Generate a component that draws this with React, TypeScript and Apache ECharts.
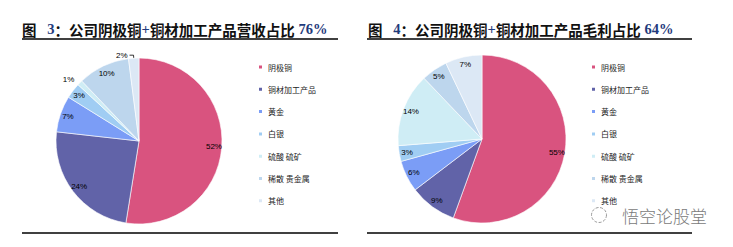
import React, { useEffect, useRef } from "react";
import * as echarts from "echarts";

const categories = ["阴极铜", "铜材加工产品", "黄金", "白银", "硫酸 硫矿", "稀散 贵金属", "其他"];
const revenueShare = [52, 24, 7, 3, 1, 10, 2];
const profitShare = [55, 9, 6, 3, 14, 5, 7];
const leftTitleParts = ["图", "   3", "：公司阴极铜", "+", "铜材加工产品营收占比", " 76%"];
const rightTitleParts = ["图", "   4", "：公司阴极铜", "+", "铜材加工产品毛利占比", " 64%"];
const watermark = "悟空论股堂";

const colors = ["#d9537f", "#6163a8", "#7b9df6", "#a0cdf3", "#cfedf5", "#bdd6ed", "#dce8f5"];

const CJK = '"Noto Sans CJK SC", sans-serif';
const SERIF = '"Liberation Serif", "DejaVu Serif", serif';
const SANS = '"Liberation Sans", Arial, sans-serif';

function titleText(parts: string[]) {
  const keys = ["a", "b", "a", "b", "a", "b"];
  return parts.map((p, i) => `{${keys[i]}|${p}}`).join("");
}

const titleRich = {
  a: { fontFamily: CJK, fontSize: 14.5, fontWeight: "bold", fill: "#111", color: "#111" },
  b: { fontFamily: SERIF, fontSize: 14.5, fontWeight: "bold", fill: "#1f3b7c", color: "#1f3b7c" },
};

export default function App() {
  const ref = useRef<HTMLDivElement>(null);
  useEffect(() => {
    if (!ref.current) return;
    const chart = echarts.init(ref.current, null, { renderer: "svg" });

    const outsideLeft = [4, 6];
    const mainData = (vals: number[], outside: number[]) =>
      categories.map((n, i) => {
        const d: any = { name: n, value: vals[i], itemStyle: { color: colors[i] } };
        if (outside.includes(i)) {
          d.label = { show: true, position: "outside" };
          d.labelLine = { show: i === 6, length: i === 6 ? 3 : 5, length2: i === 6 ? 4 : 0 };
        }
        return d;
      });
    const labelData = (vals: number[], outside: number[]) =>
      categories.map((n, i) => {
        const d: any = { name: n, value: vals[i] };
        if (outside.includes(i)) d.label = { show: false };
        return d;
      });

    const mainSeries = (center: number[], r: number, vals: number[], outside: number[]) => ({
      type: "pie",
      center,
      radius: [0, r],
      startAngle: 90,
      clockwise: true,
      avoidLabelOverlap: false,
      silent: true,
      itemStyle: { borderColor: "#ffffff", borderWidth: 0.6 },
      label: {
        show: false,
        formatter: "{c}%",
        fontSize: 8,
        fontFamily: SANS,
        color: "#000",
        distanceToLabelLine: 2,
      },
      labelLine: { show: false, lineStyle: { color: "#000", width: 0.8 } },
      emphasis: { disabled: true },
      data: mainData(vals, outside),
    });
    const labelSeries = (center: number[], r: number, vals: number[], outside: number[]) => ({
      type: "pie",
      center,
      radius: [r * 0.74, r],
      startAngle: 90,
      clockwise: true,
      avoidLabelOverlap: false,
      silent: true,
      itemStyle: { color: "rgba(0,0,0,0)" },
      label: {
        show: true,
        position: "inside",
        formatter: "{c}%",
        fontSize: 8,
        fontFamily: SANS,
        color: "#000",
      },
      labelLine: { show: false },
      emphasis: { disabled: true },
      data: labelData(vals, outside),
    });

    const legendBase = {
      orient: "vertical",
      top: 62,
      padding: 0,
      itemWidth: 5,
      itemHeight: 5,
      itemGap: 12.3,
      icon: "rect",
      selectedMode: false,
      textStyle: { fontSize: 8, fontFamily: CJK, color: "#222", lineHeight: 10 },
      data: categories,
    };

    const line = (x1: number, x2: number, y: number) => ({
      type: "line",
      shape: { x1, y1: y, x2, y2: y },
      style: { stroke: "#000", lineWidth: 1.5 },
    });

    chart.setOption({
      animation: false,
      backgroundColor: "#fff",
      legend: [
        { ...legendBase, left: 257 },
        { ...legendBase, left: 590 },
      ],
      series: [
        mainSeries([139, 141], 83, revenueShare, outsideLeft),
        mainSeries([482, 139], 84, profitShare, []),
        labelSeries([139, 141], 83, revenueShare, outsideLeft),
        labelSeries([482, 139], 84, profitShare, []),
      ],
      graphic: [
        {
          type: "text",
          x: 22,
          y: 29,
          style: { text: titleText(leftTitleParts), rich: titleRich, verticalAlign: "middle" },
        },
        {
          type: "text",
          x: 368,
          y: 29,
          style: { text: titleText(rightTitleParts), rich: titleRich, verticalAlign: "middle" },
        },
        line(22, 338, 39),
        line(22, 338, 233),
        line(367, 692, 39),
        line(367, 692, 233),
        {
          type: "circle",
          shape: { cx: 599, cy: 215, r: 7.5 },
          style: { fill: "none", stroke: "#9a9a9a", lineWidth: 1, lineDash: [3, 1.5] },
        },
        {
          type: "text",
          x: 622,
          y: 215,
          style: {
            text: watermark,
            fontFamily: CJK,
            fontSize: 17,
            fontWeight: 300,
            fill: "#7a7a7a",
            verticalAlign: "middle",
          },
        },
      ],
    });
    return () => chart.dispose();
  }, []);
  return (
    <div
      ref={ref}
      style={{ position: "absolute", left: 0, top: 0, width: 733, height: 247, background: "#fff" }}
    />
  );
}
